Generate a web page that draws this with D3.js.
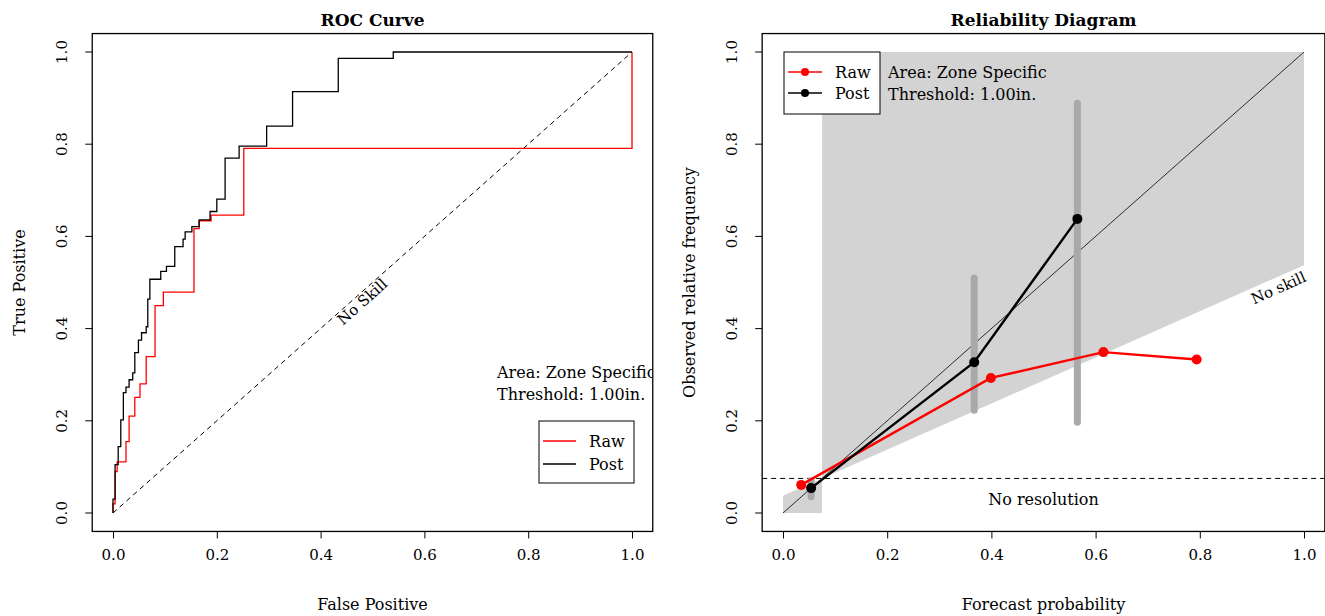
<!DOCTYPE html>
<html>
<head>
<meta charset="utf-8">
<script src="https://cdn.jsdelivr.net/npm/d3@7"></script>
<style>
  body { margin: 0; background: #fff; }
  svg text { font-family: "DejaVu Serif", "Liberation Serif", serif; fill: #000; }
</style>
</head>
<body>
<svg id="chart" width="1325" height="616"></svg>
<script>
// ROC step curves: (false positive, true positive) after each jump
var rocPostFP = [0, 0, 0.004, 0.010, 0.015, 0.020, 0.025, 0.031, 0.038, 0.042, 0.049, 0.055, 0.064, 0.067, 0.071, 0.092, 0.103, 0.119, 0.135, 0.139, 0.152, 0.166, 0.187, 0.200, 0.216, 0.243, 0.296, 0.346, 0.434, 0.540, 1.0];
var rocPostTP = [0, 0.03, 0.105, 0.144, 0.202, 0.261, 0.273, 0.289, 0.304, 0.348, 0.375, 0.391, 0.404, 0.464, 0.507, 0.524, 0.535, 0.578, 0.594, 0.610, 0.621, 0.636, 0.654, 0.681, 0.770, 0.796, 0.839, 0.914, 0.986, 1.0, 1.0];
var rocRawFP = [0, 0, 0.004, 0.008, 0.025, 0.031, 0.042, 0.052, 0.064, 0.081, 0.097, 0.156, 0.166, 0.189, 0.252, 1.0];
var rocRawTP = [0, 0.02, 0.09, 0.111, 0.155, 0.210, 0.251, 0.280, 0.339, 0.450, 0.479, 0.617, 0.634, 0.646, 0.791, 1.0];

// reliability diagram
var relRawX = [0.035, 0.399, 0.615, 0.794];
var relRawY = [0.061, 0.293, 0.349, 0.333];
var relPostX = [0.054, 0.367, 0.565];
var relPostY = [0.054, 0.327, 0.638];
var ciLo = [0.035, 0.223, 0.197];
var ciHi = [0.070, 0.510, 0.889];
var climatology = 0.075;

var ticks = [0, 0.2, 0.4, 0.6, 0.8, 1.0];
var seriesNames = ["Raw", "Post"];
var seriesColors = ["#ff0000", "#000000"];
var infoLines = ["Area: Zone Specific", "Threshold: 1.00in."];

var svg = d3.select("#chart");
var fmt = d3.format(".1f");

var y = d3.scaleLinear().domain([0, 1]).range([513, 52]);

function panel(id, x0, x1, title, xlab, ylab) {
  var x = d3.scaleLinear().domain([0, 1]).range([x0, x1]);
  var g = svg.append("g");
  var bx0 = x(-0.04), bx1 = x(1.04), by0 = y(1.04), by1 = y(-0.04);

  g.append("clipPath").attr("id", id)
    .append("rect").attr("x", bx0).attr("y", by0)
    .attr("width", bx1 - bx0).attr("height", by1 - by0);

  var plot = g.append("g").attr("clip-path", "url(#" + id + ")");

  // axes
  var xa = g.append("g").attr("transform", "translate(0," + by1 + ")")
    .call(d3.axisBottom(x).tickValues(ticks).tickFormat(fmt).tickSize(7).tickPadding(11));
  xa.select(".domain").remove();
  xa.selectAll("text").style("font-size", "15px");

  var ya = g.append("g").attr("transform", "translate(" + bx0 + ",0)")
    .call(d3.axisLeft(y).tickValues(ticks).tickFormat(fmt).tickSize(7));
  ya.select(".domain").remove();
  ya.selectAll("text")
    .attr("x", null).attr("dy", null)
    .attr("text-anchor", "middle")
    .attr("transform", function(d) { return "translate(-25," + y(d) + ") rotate(-90)"; })
    .attr("y", 0)
    .style("font-size", "15px");
  ya.selectAll(".tick").attr("transform", null);
  ya.selectAll(".tick line").attr("transform", function(d) { return "translate(0," + y(d) + ")"; });

  g.append("text").attr("x", (bx0 + bx1) / 2).attr("y", 26)
    .attr("text-anchor", "middle").style("font-size", "17px").style("font-weight", "bold")
    .text(title);
  g.append("text").attr("x", (bx0 + bx1) / 2).attr("y", 610)
    .attr("text-anchor", "middle").style("font-size", "16px").text(xlab);
  g.append("text").attr("transform", "translate(" + (bx0 - 67) + "," + y(0.5) + ") rotate(-90)")
    .attr("text-anchor", "middle").style("font-size", "16px").text(ylab);

  return {g: g, plot: plot, x: x, box: [bx0, by0, bx1, by1]};
}

// ---- ROC panel
var roc = panel("clipRoc", 113, 632, "ROC Curve", "False Positive", "True Positive");
var rx = roc.x;

roc.plot.append("line")
  .attr("x1", rx(0)).attr("y1", y(0)).attr("x2", rx(1)).attr("y2", y(1))
  .attr("stroke", "#000").attr("stroke-dasharray", "5,4");

var stepLine = d3.line().curve(d3.curveStepAfter)
  .x(function(d) { return rx(d[0]); }).y(function(d) { return y(d[1]); });

roc.plot.append("path").datum(d3.zip(rocRawFP, rocRawTP))
  .attr("d", stepLine).attr("fill", "none").attr("stroke", seriesColors[0]).attr("stroke-width", 1.3);
roc.plot.append("path").datum(d3.zip(rocPostFP, rocPostTP))
  .attr("d", stepLine).attr("fill", "none").attr("stroke", seriesColors[1]).attr("stroke-width", 1.3);

var rocAngle = Math.atan((y(0) - y(1)) / (rx(1) - rx(0))) * 180 / Math.PI;
roc.plot.append("text")
  .attr("transform", "translate(" + rx(0.487) + "," + y(0.45) + ") rotate(" + (-rocAngle) + ")")
  .attr("text-anchor", "middle").style("font-size", "15px").text("No Skill");

roc.plot.selectAll(".info").data(infoLines).enter().append("text")
  .attr("x", 497).attr("y", function(d, i) { return 378 + i * 22; })
  .style("font-size", "16px").text(function(d) { return d; });

var rocLeg = roc.g.append("g").attr("transform", "translate(539,421)");
rocLeg.append("rect").attr("width", 95).attr("height", 62)
  .attr("fill", "#fff").attr("stroke", "#000");
seriesNames.forEach(function(n, i) {
  rocLeg.append("line").attr("x1", 4).attr("x2", 37)
    .attr("y1", 20 + i * 23).attr("y2", 20 + i * 23)
    .attr("stroke", seriesColors[i]).attr("stroke-width", 1.3);
  rocLeg.append("text").attr("x", 50).attr("y", 26 + i * 23)
    .style("font-size", "16px").text(n);
});

roc.g.append("rect").attr("x", roc.box[0]).attr("y", roc.box[1])
  .attr("width", roc.box[2] - roc.box[0]).attr("height", roc.box[3] - roc.box[1])
  .attr("fill", "none").attr("stroke", "#000").attr("stroke-width", 1.3);

// ---- Reliability panel
var rel = panel("clipRel", 783, 1304, "Reliability Diagram", "Forecast probability", "Observed relative frequency");
var fx = rel.x;

var noSkill = function(p) { return (p + climatology) / 2; };
var skillArea = [[0, 0], [0, noSkill(0)], [1, noSkill(1)], [1, 1], [climatology, 1], [climatology, 0]];
rel.plot.append("path")
  .attr("d", d3.line().x(function(d) { return fx(d[0]); }).y(function(d) { return y(d[1]); })(skillArea) + "Z")
  .attr("fill", "#d3d3d3").attr("stroke", "none");

rel.plot.append("line")
  .attr("x1", fx(0)).attr("y1", y(0)).attr("x2", fx(1)).attr("y2", y(1))
  .attr("stroke", "#000").attr("stroke-width", 0.8);

rel.plot.append("line")
  .attr("x1", rel.box[0]).attr("x2", rel.box[2])
  .attr("y1", y(climatology)).attr("y2", y(climatology))
  .attr("stroke", "#000").attr("stroke-dasharray", "5,4");

rel.plot.selectAll(".ci").data(relPostX).enter().append("line")
  .attr("x1", function(d) { return fx(d); }).attr("x2", function(d) { return fx(d); })
  .attr("y1", function(d, i) { return y(ciLo[i]); }).attr("y2", function(d, i) { return y(ciHi[i]); })
  .attr("stroke", "#a9a9a9").attr("stroke-width", 7).attr("stroke-linecap", "round");

rel.plot.append("text").attr("x", fx(0.5)).attr("y", y(0.018))
  .attr("text-anchor", "middle").style("font-size", "16px").text("No resolution");

var relAngle = Math.atan((y(0) - y(0.5)) / (fx(1) - fx(0))) * 180 / Math.PI;
rel.plot.append("text")
  .attr("transform", "translate(" + fx(0.955) + "," + y(0.478) + ") rotate(" + (-relAngle) + ")")
  .attr("text-anchor", "middle").style("font-size", "15px").text("No skill");

var ptLine = d3.line().x(function(d) { return fx(d[0]); }).y(function(d) { return y(d[1]); });
[[relRawX, relRawY], [relPostX, relPostY]].forEach(function(s, k) {
  var pts = d3.zip(s[0], s[1]);
  rel.plot.append("path").datum(pts).attr("d", ptLine)
    .attr("fill", "none").attr("stroke", seriesColors[k]).attr("stroke-width", 2.4);
  rel.plot.selectAll(".pt" + k).data(pts).enter().append("circle")
    .attr("cx", function(d) { return fx(d[0]); }).attr("cy", function(d) { return y(d[1]); })
    .attr("r", 5).attr("fill", seriesColors[k]);
});

rel.plot.selectAll(".info").data(infoLines).enter().append("text")
  .attr("x", 888).attr("y", function(d, i) { return 78 + i * 22; })
  .style("font-size", "16px").text(function(d) { return d; });

var relLeg = rel.g.append("g").attr("transform", "translate(784,52)");
relLeg.append("rect").attr("width", 96).attr("height", 62)
  .attr("fill", "#fff").attr("stroke", "#000");
seriesNames.forEach(function(n, i) {
  var ly = 20 + i * 21;
  relLeg.append("line").attr("x1", 4).attr("x2", 38).attr("y1", ly).attr("y2", ly)
    .attr("stroke", seriesColors[i]).attr("stroke-width", 1.3);
  relLeg.append("circle").attr("cx", 21).attr("cy", ly).attr("r", 4).attr("fill", seriesColors[i]);
  relLeg.append("text").attr("x", 51).attr("y", ly + 6).style("font-size", "16px").text(n);
});

rel.g.append("rect").attr("x", rel.box[0]).attr("y", rel.box[1])
  .attr("width", rel.box[2] - rel.box[0]).attr("height", rel.box[3] - rel.box[1])
  .attr("fill", "none").attr("stroke", "#000").attr("stroke-width", 1.3);
</script>
</body>
</html>
